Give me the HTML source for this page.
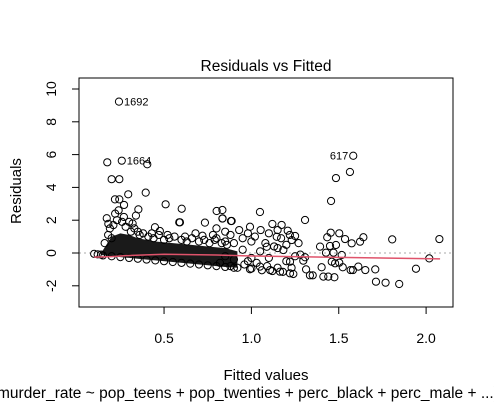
<!DOCTYPE html>
<html><head><meta charset="utf-8"><style>
html,body{margin:0;padding:0;background:#fff;}
svg{display:block;font-family:"Liberation Sans",Arial,sans-serif;}
</style></head><body>
<svg id="chart" width="494" height="405" viewBox="0 0 494 405">
<text x="266" y="71" font-size="15.5" text-anchor="middle">Residuals vs Fitted</text>
<text x="266" y="380" font-size="15" text-anchor="middle">Fitted values</text>
<text x="-3" y="398" font-size="15.5">murder_rate ~ pop_teens + pop_twenties + perc_black + perc_male + ...)</text>
<text transform="translate(21,191) rotate(-90)" font-size="15" text-anchor="middle">Residuals</text>
<g id="marks"></g>
<rect x="79" y="78" width="374" height="229" fill="none" stroke="#000" stroke-width="1"/>
</svg>
<script>
const xTicks=[0.5,1.0,1.5,2.0];
const xTickLabels=["0.5","1.0","1.5","2.0"];
const yTicks=[-2,0,2,4,6,8,10];
const yTickLabels=["-2","0","2","4","6","8","10"];
const bandX=[0.14,0.17,0.2,0.25,0.3,0.35,0.45,0.55,0.65,0.75,0.85,0.92];
const bandUpper=[0.0,0.5,1.0,1.2,1.1,0.9,0.7,0.6,0.5,0.4,0.3,0.1];
const bandLower=[-0.12,-0.17,-0.2,-0.25,-0.3,-0.35,-0.45,-0.55,-0.65,-0.75,-0.85,-0.9];
const fitted=[0.242,0.175,0.258,0.404,0.2,0.244,0.395,0.295,0.219,0.244,0.271,0.353,0.509,0.601,0.591,0.734,0.801,0.834,0.834,0.883,0.448,0.476,0.172,0.181,0.339,0.587,1.049,0.835,0.887,1.307,
1.583,1.564,1.484,1.456,1.806,2.076,2.018,1.942,1.846,1.768,1.713,1.709,1.652,1.612,1.581,1.568,1.641,1.622,1.574,1.536,1.503,1.454,1.434,1.393,1.45,1.484,1.427,1.47,1.517,1.46,1.479,1.503,1.402,1.523,1.412,1.44,1.475,1.313,1.335,1.351,1.307,1.297,1.25,
1.12,1.173,1.208,1.231,0.992,1.053,1.145,1.088,1.183,1.221,1.164,1.221,1.24,1.107,1.049,0.992,
0.80,0.85,0.88,0.93,0.95,0.98,1.0,1.02,0.90,0.85,0.8,0.78,0.82,0.88,0.92,0.96,1.0,1.03,1.06,1.09,1.12,1.15,1.18,1.0,1.05,1.1,1.15,1.2,0.95,1.08,1.13,1.17,1.2,1.25,1.23,0.9,0.85,0.98,1.1,1.15,1.22,1.27,1.28,0.1,0.14,
0.16,0.18,0.19,0.21,0.23,0.26,0.28,0.31,0.33,0.36,0.38,0.41,0.44,0.47,0.5,0.53,0.56,0.6,0.63,0.66,0.7,0.73,0.76,0.79,0.83,0.86,0.2,0.22,0.24,0.27,0.3,0.32,0.35,0.43,0.52,0.62,0.68,0.72,
0.2,0.25,0.3,0.35,0.4,0.45,0.5,0.55,0.6,0.65,0.7,0.75,0.8,0.85,0.9,0.12,0.15];
const resid=[9.23,5.53,5.63,5.41,4.5,4.5,3.68,3.58,3.27,3.27,2.93,2.66,2.97,2.7,1.87,1.85,2.56,2.62,2.1,1.95,1.57,1.34,2.12,1.78,2.28,1.87,2.5,2.11,1.95,2.01,
5.93,4.94,4.57,3.17,0.83,0.85,-0.33,-0.96,-1.89,-1.81,-1.75,-1.0,-1.04,-0.83,-1.04,-1.04,0.96,0.69,0.59,0.85,1.2,1.24,0.96,0.39,0.43,0.49,0.02,0.02,-0.12,-0.53,-0.63,-0.59,-0.87,-0.87,-1.44,-1.44,-1.48,-1.0,-1.36,-1.36,-0.26,-0.47,1.04,
1.77,1.71,1.36,0.79,1.6,1.4,0.99,0.38,0.18,-0.53,-1.14,-1.24,-1.28,-1.04,-0.83,-0.99,
1.5,1.3,1.1,1.4,0.9,1.2,0.7,1.0,0.6,0.7,0.9,1.1,-0.6,-0.8,-0.9,-0.7,-0.95,-0.6,-1.05,-0.8,-1.1,-0.9,-1.15,-0.3,0.1,-0.3,0.3,-0.5,0.2,0.6,0.4,0.9,0.5,-0.2,-0.9,-0.4,-0.2,-0.5,1.2,1.4,1.1,0.6,-0.1,-0.05,-0.1,
0.6,1.1,1.5,1.7,2.0,1.9,1.6,1.3,1.5,1.1,1.2,1.0,0.9,1.1,0.8,0.9,1.0,0.8,0.7,0.9,0.7,0.8,0.6,0.8,0.6,0.5,0.9,2.4,2.6,2.2,1.9,1.8,1.3,1.2,1.1,1.0,1.2,1.05,
-0.2,-0.25,-0.3,-0.35,-0.4,-0.45,-0.5,-0.55,-0.6,-0.65,-0.7,-0.75,-0.8,-0.85,-0.9,-0.08,-0.15];
const smoothX=[0.1,0.2,0.3,0.5,0.8,1.0,1.5,2.08];
const smoothY=[-0.25,-0.22,-0.15,-0.08,-0.12,-0.18,-0.27,-0.36];
const labelIds=["1692","1664","617"];
const labelX=[0.242,0.258,1.583];
const labelY=[9.23,5.63,5.93];

const NS="http://www.w3.org/2000/svg";
const px=v=>76.7+174.7*v;
const py=v=>253-16.4*v;
const g=document.getElementById('marks');
function mk(t,a){const e=document.createElementNS(NS,t);for(const k in a)e.setAttribute(k,a[k]);g.appendChild(e);return e;}

xTicks.forEach((t,i)=>{
  const l=mk('line',{x1:px(t),x2:px(t),y1:307,y2:314,stroke:'#000'});
  
  
  const tx=mk('text',{x:px(t),y:343,'font-size':14,'text-anchor':'middle'});
  tx.textContent=xTickLabels[i];
  
  
});
yTicks.forEach((t,i)=>{
  const l=mk('line',{x1:72,x2:79,y1:py(t),y2:py(t),stroke:'#000'});
  
  
  const tx=mk('text',{transform:`translate(56,${py(t)}) rotate(-90)`,'font-size':14,'text-anchor':'middle'});
  tx.textContent=yTickLabels[i];
  
  
});
const zl=mk('line',{x1:79,x2:453,y1:py(0),y2:py(0),stroke:'#aaa','stroke-dasharray':'2,3'});



let pts=bandX.map((x,i)=>px(x)+','+py(bandUpper[i]));
for(let i=bandX.length-1;i>=0;i--)pts.push(px(bandX[i])+','+py(bandLower[i]));
const band=mk('polygon',{points:pts.join(' '),fill:'#1a1a1a'});



fitted.forEach((x,i)=>{
  const c=mk('circle',{cx:px(x),cy:py(resid[i]),r:3.6,fill:'none',stroke:'#000','stroke-width':1});
  
  
});
const sm=mk('polyline',{points:smoothX.map((x,i)=>px(x)+','+py(smoothY[i])).join(' '),fill:'none',stroke:'#DF536B','stroke-width':1.5});


labelIds.forEach((id,i)=>{
  const left=labelX[i]>1;
  const t=mk('text',{x:px(labelX[i])+(left?-5:5),y:py(labelY[i])+4,'font-size':11,'text-anchor':left?'end':'start'});
  t.textContent=id;
  
  
});
</script>
</body></html>
